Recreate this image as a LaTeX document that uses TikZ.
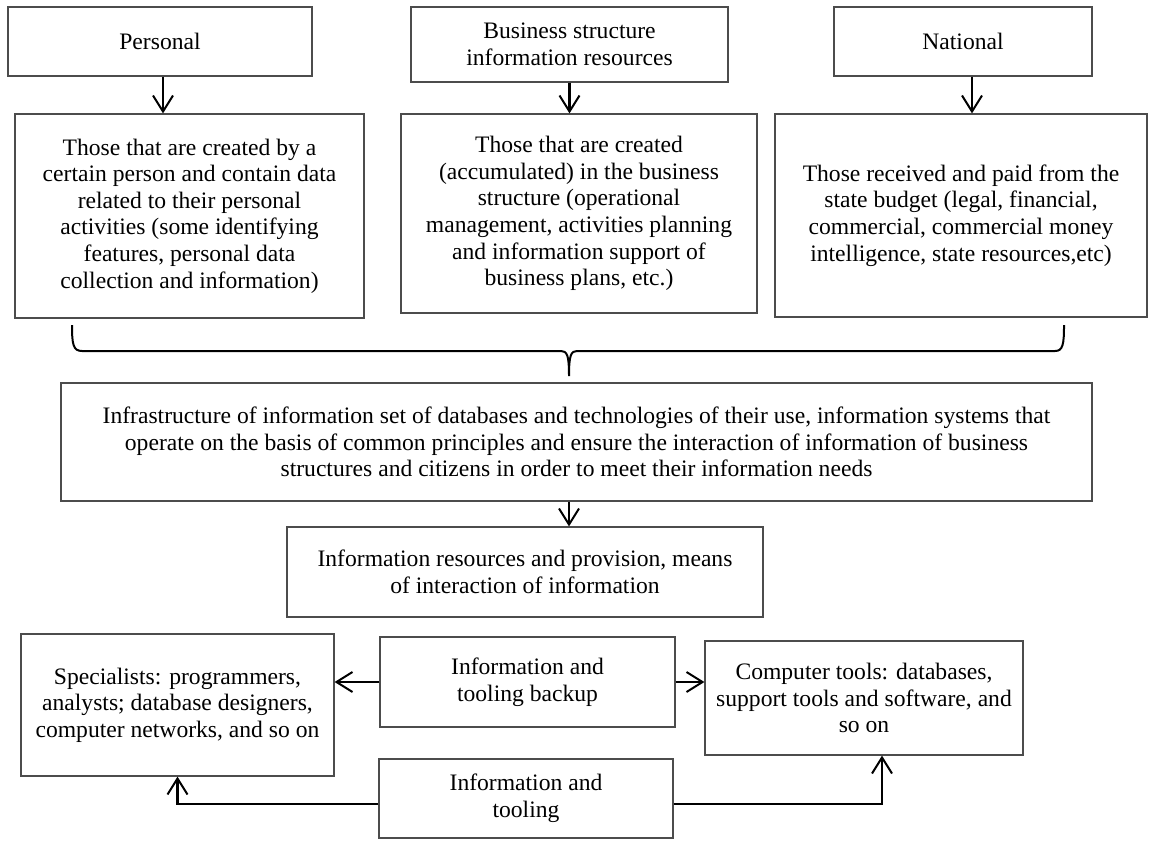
\documentclass[tikz,border=0pt]{standalone}
\usepackage{fontspec}
\setmainfont{Liberation Serif}
\usetikzlibrary{arrows.meta,calc}
\definecolor{BoxClr}{rgb}{0.3,0.3,0.3}
\definecolor{LineClr}{rgb}{0,0,0}

\begin{document}
\begin{tikzpicture}[x=0.5pt,y=-0.5pt,
  box/.style={draw=BoxClr,line width=0.6pt,align=center,inner sep=0pt,
    font=\fontsize{11.8}{13.3}\selectfont},
  arr/.style={-{Straight Barb[length=8pt,width=10pt,line width=1pt]},line width=1.1pt,color=LineClr}]
\useasboundingbox (0,0) rectangle (1149,840);

\node[box,minimum width=152pt,minimum height=34.5pt] (pers) at (160,41.5) {Personal};
\node[box,minimum width=158.5pt,minimum height=37.5pt] (busi) at (569.5,44.5) {Business structure\\information resources};
\node[box,minimum width=129pt,minimum height=34.5pt] (natl) at (963,41.5) {National};

\node[box,minimum width=174.5pt,minimum height=102pt] (persd) at (189.5,216) {Those that are created by a\\certain person and contain data\\related to their personal\\activities (some identifying\\features, personal data\\collection and information)};
\node[box,minimum width=178pt,minimum height=99.5pt] (busid) at (579,213.5) {Those that are created\\(accumulated) in the business\\structure (operational\\management, activities planning\\and information support of\\business plans, etc.)};
\node[box,minimum width=186pt,minimum height=101.5pt] (natld) at (961,215.5) {Those received and paid from the\\state budget (legal, financial,\\commercial, commercial money\\intelligence, state resources,etc)};

\node[box,minimum width=515.5pt,minimum height=59pt] (infra) at (576.5,442) {Infrastructure of information set of databases and technologies of their use, information systems that\\operate on the basis of common principles and ensure the interaction of information of business\\structures and citizens in order to meet their information needs};
\node[box,minimum width=238pt,minimum height=45pt] (infres) at (525,572) {Information resources and provision, means\\of interaction of information};

\node[box,minimum width=156.5pt,minimum height=71pt] (spec) at (177.5,705) {Specialists: programmers,\\analysts; database designers,\\computer networks, and so on};
\node[box,minimum width=147.5pt,minimum height=45pt] (backup) at (527.5,682) {Information and\\tooling backup};
\node[box,minimum width=159pt,minimum height=57pt] (comp) at (864,698) {Computer tools: databases,\\support tools and software, and\\so on};
\node[box,minimum width=147pt,minimum height=39.5pt] (tool) at (526,798.5) {Information and\\tooling};

\coordinate (BL) at (72,325);
\coordinate (BR) at (1064,325);
\coordinate (BT) at (569,376);

\draw[line width=1pt] (BL) .. controls (72,344) and (73,351) .. (82,351) -- (561,351)
  .. controls (567,351) and (569,355) .. (BT)
  .. controls (569,355) and (571,351) .. (577,351) -- (1055,351)
  .. controls (1063,351) and (1064,344) .. (BR);

\draw[arr] ([xshift=1.5pt]pers.south) -- ([xshift=1.5pt]pers.south |- persd.north);
\draw[arr] (busi.south) -- (busi.south |- busid.north);
\draw[arr] ([xshift=4.5pt]natl.south) -- ([xshift=4.5pt]natl.south |- natld.north);
\draw[arr] (BT |- infra.south) -- (BT |- infres.north);
\draw[arr] (backup.west) -- (backup.west -| spec.east);
\draw[arr] (backup.east) -- (backup.east -| comp.west);
\draw[arr] ([yshift=-2.75pt]tool.west) -| (spec.south);
\draw[arr] ([yshift=-2.75pt]tool.east) -| ([xshift=9pt]comp.south);

\end{tikzpicture}
\end{document}
